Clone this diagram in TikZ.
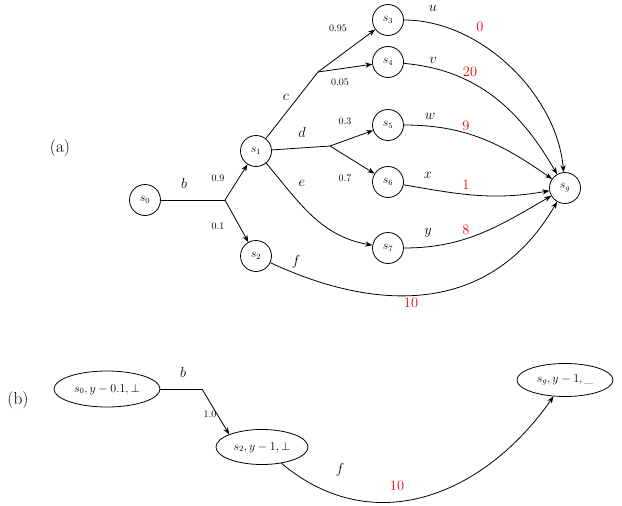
\documentclass[tikz,border=0pt]{standalone}
\usetikzlibrary{shapes.geometric,arrows.meta}
\begin{document}
\begin{tikzpicture}[x=1pt,y=-1pt,
  st/.style={circle,draw,thick,minimum size=31pt,inner sep=0pt,font=\large},
  el/.style={ellipse,draw,thick,inner sep=1pt,font=\large},
  ar/.style={thick,-{Stealth[length=7pt]}},
  ln/.style={thick},
  p/.style={font=\normalsize},
  lb/.style={font=\Large},
  rw/.style={text=red,font=\Large}]
\useasboundingbox (0,0) rectangle (622,506);
\node[font=\LARGE] (la) at (60,148) {(a)};
\node[font=\LARGE] (lb2) at (18,400) {(b)};
\node[st] (s0) at (145,200) {$s_0$};
\node[st] (s1) at (256,151) {$s_1$};
\node[st] (s2) at (256,256) {$s_2$};
\node[st] (s3) at (388,20) {$s_3$};
\node[st] (s4) at (388,62) {$s_4$};
\node[st] (s5) at (388,125) {$s_5$};
\node[st] (s6) at (388,182) {$s_6$};
\node[st] (s7) at (388,248) {$s_7$};
\node[st] (sg) at (565,188) {$s_g$};
\coordinate (pb) at (225,200);
\coordinate (pc) at (318,72);
\coordinate (pd) at (330,146);
\draw[ln] (s0) -- (pb);
\draw[ar] (pb) -- (s1);
\draw[ar] (pb) -- (s2);
\draw[ln] (s1) -- (pc);
\draw[ar] (pc) -- (s3);
\draw[ar] (pc) -- (s4);
\draw[ln] (s1) -- (pd);
\draw[ar] (pd) -- (s5);
\draw[ar] (pd) -- (s6);
\draw[ar] (s1) to[out=-50,in=170] (s7);
\draw[ar] (s3) to[out=0,in=95,looseness=0.9] (sg);
\draw[ar] (s4) to[out=-5,in=120] (sg);
\draw[ar] (s5) to[out=0,in=145] (sg);
\draw[ar] (s6) to[out=-10,in=190] (sg);
\draw[ar] (s7) to[out=0,in=210] (sg);
\draw[ar] (s2) to[out=-25,in=240,looseness=1.1] (sg);
\node[lb] (tb) at (184,183) {$b$};
\node[p] (t09) at (218,178) {0.9};
\node[p] (t01) at (218,226) {0.1};
\node[lb] (tc) at (286,97) {$c$};
\node[lb] (td) at (302,132) {$d$};
\node[lb] (te) at (302,183) {$e$};
\node[lb] (tf) at (296,262) {$f$};
\node[p] (t095) at (338,28) {0.95};
\node[p] (t005) at (340,82) {0.05};
\node[p] (t03) at (345,121) {0.3};
\node[p] (t07) at (345,178) {0.7};
\node[lb] (tu) at (433,8) {$u$};
\node[lb] (tv) at (433,60) {$v$};
\node[lb] (tw) at (430,116) {$w$};
\node[lb] (tx) at (428,175) {$x$};
\node[lb] (ty) at (428,233) {$y$};
\node[rw] (r0) at (480,27) {0};
\node[rw] (r20) at (470,72) {20};
\node[rw] (r9) at (466,126) {9};
\node[rw] (r1) at (466,185) {1};
\node[rw] (r8) at (466,230) {8};
\node[rw] (r10) at (411,303) {10};
% (b)
\node[el,minimum width=106pt,minimum height=36pt] (b0) at (107,389) {$s_0,y-0.1,\bot$};
\node[el,minimum width=92pt,minimum height=35pt] (b2) at (262,447) {$s_2,y-1,\bot$};
\node[el,minimum width=96pt,minimum height=33pt] (bg) at (565,380) {$s_g,y-1,\_$};
\coordinate (qb) at (202,389);
\draw[ln] (b0.east) -- (qb);
\draw[ar] (qb) -- (b2.north west);
\draw[ar] (b2) to[out=-40,in=235,looseness=1.1] (bg);
\node[lb] (ub) at (183,372) {$b$};
\node[p] (u10) at (210,414) {1.0};
\node[lb] (uf) at (340,470) {$f$};
\node[rw] (u10r) at (397,486) {10};
\end{tikzpicture}
\end{document}
